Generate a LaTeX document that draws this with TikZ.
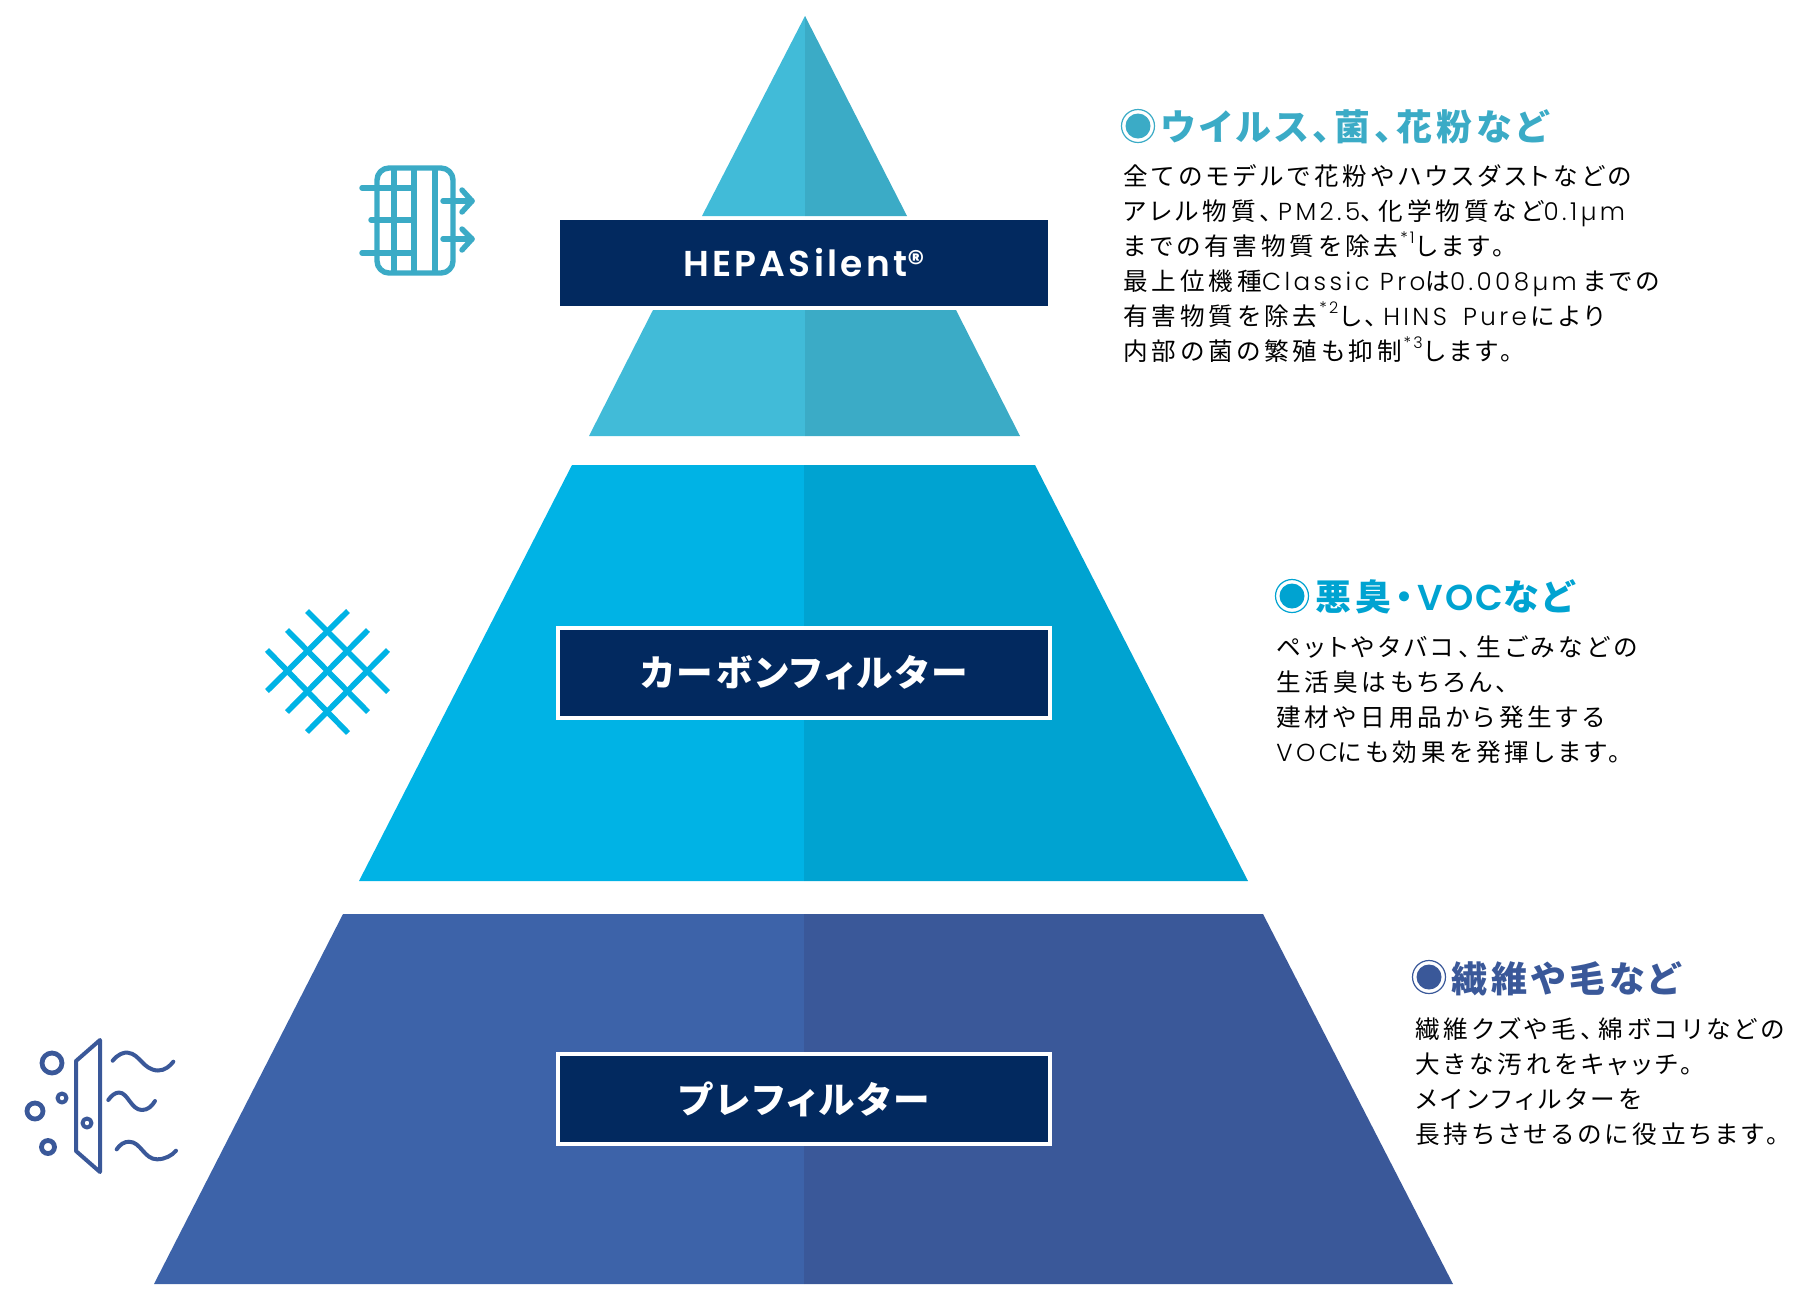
\documentclass[tikz,border=0pt]{standalone}
\usepackage{fontspec}
\setmainfont{Noto Sans CJK JP}
\newfontfamily\jpfont[RawFeature={+palt},LetterSpace=16]{Noto Sans CJK JP}
\newfontfamily\latfont[LetterSpace=14]{Poppins Light}
\newfontfamily\headfont[RawFeature={+palt},LetterSpace=11]{Noto Sans CJK JP}
\newfontfamily\bandfont[RawFeature={+palt},LetterSpace=8]{Noto Sans CJK JP}
\newfontfamily\tagfont[LetterSpace=9]{Poppins SemiBold}
\newfontfamily\vocfont[LetterSpace=6]{Poppins SemiBold}
\newcommand{\lat}[1]{{\latfont #1}}
\newcommand{\fnref}[1]{\hspace{1pt}\raisebox{0.9ex}{\fontsize{8}{8}\selectfont\latfont *#1}\hspace{1pt}}
\newcommand{\tenten}{、\hspace{3pt}}
\definecolor{navyband}{HTML}{02295F}
\definecolor{tealL}{HTML}{41BBD8}
\definecolor{tealR}{HTML}{3BABC6}
\definecolor{cyanL}{HTML}{00B3E5}
\definecolor{cyanR}{HTML}{00A3D1}
\definecolor{blueL}{HTML}{3D63A9}
\definecolor{blueR}{HTML}{3A5899}
\tikzset{
  bandbox/.style={fill=navyband, text=white, minimum width=244pt, minimum height=43pt, inner sep=0pt, font=\fontsize{18.3}{20}\selectfont\bandfont\bfseries},
  framedband/.style={bandbox, draw=white, line width=2pt, minimum width=246pt, minimum height=45pt},
  bodytext/.style={anchor=west, align=left, inner sep=0pt, font=\fontsize{12.3}{17.5}\selectfont\jpfont},
  headtext/.style={anchor=west, inner sep=0pt, font=\fontsize{18}{20}\selectfont\headfont\bfseries},
  ring/.style={circle, draw=#1, line width=0.6pt, fill=white, minimum size=16.5pt, inner sep=0pt},
  disc/.style={circle, fill=#1, minimum size=12.5pt, inner sep=0pt},
  icon/.style={line width=2.7pt, line cap=round, line join=round}
}
\begin{document}
\begin{tikzpicture}[x=0.5pt, y=-0.5pt]
  \useasboundingbox (0,0) rectangle (1815,1297);

  % HEPA tier
  \fill[tealL] (805,16) -- (702,216) -- (805,216) -- cycle;
  \fill[tealR] (805,16) -- (907,216) -- (805,216) -- cycle;
  \fill[tealL] (653,310) -- (589,436) -- (805,436) -- (805,310) -- cycle;
  \fill[tealR] (956,310) -- (1020,436) -- (805,436) -- (805,310) -- cycle;

  % Carbon tier
  \fill[cyanL] (572,465) -- (359,881) -- (804,881) -- (804,465) -- cycle;
  \fill[cyanR] (1035,465) -- (1248,881) -- (804,881) -- (804,465) -- cycle;

  % Prefilter tier
  \fill[blueL] (343,914) -- (154,1284) -- (804,1284) -- (804,914) -- cycle;
  \fill[blueR] (1263,914) -- (1453,1284) -- (804,1284) -- (804,914) -- cycle;

  % Bands
  \node[bandbox] (hepaband) at (804,263) {\fontsize{18}{20}\selectfont\tagfont\mdseries HEPASilent\raisebox{0.1ex}{\fontsize{17}{17}\selectfont\textregistered}};
  \node[framedband] (carbonband) at (804,673) {カーボンフィルター};
  \node[framedband] (preband) at (804,1099) {プレフィルター};

  % Descriptions
  \node[ring=tealR] (heparing) at (1138,126) {};
  \node[disc=tealR] at (heparing) {};
  \node[headtext, text=tealR] (hepahead) at (1161,127) {ウイルス、菌、花粉など};
  \node[bodytext] (hepabody) at (1123,264) {全てのモデルで花粉やハウスダストなどの\\
    アレル物質\tenten\lat{PM2.5}\tenten 化学物質など\lat{0.1µm}\\
    までの有害物質を除去\fnref{1}します。\\
    最上位機種\lat{Classic Pro}は\lat{0.008µm}\hspace{3pt}までの\\
    有害物質を除去\fnref{2}し\tenten\lat{HINS\hspace{3pt} Pure}\hspace{2pt}により\\
    内部の菌の繁殖も抑制\fnref{3}します。};

  \node[ring=cyanR] (carbonring) at (1292,596) {};
  \node[disc=cyanR] at (carbonring) {};
  \node[headtext, text=cyanR] (carbonhead) at (1315,597) {悪臭\hspace{2pt}・\hspace{2pt}{\vocfont\mdseries VOC}など};
  \node[bodytext] (carbonbody) at (1276,700) {ペットやタバコ\tenten 生ごみなどの\\
    生活臭はもちろん、\\
    建材や日用品から発生する\\
    \lat{VOC}にも効果を発揮します。};

  \node[ring=blueR] (prering) at (1429,977) {};
  \node[disc=blueR] at (prering) {};
  \node[headtext, text=blueR] (prehead) at (1451,979) {繊維や毛など};
  \node[bodytext] (prebody) at (1415,1082) {繊維クズや毛\tenten 綿ボコリなどの\\
    大きな汚れをキャッチ。\\
    メインフィルターを\\
    長持ちさせるのに役立ちます。};

  % Filter icon
  \begin{scope}[icon, tealR]
    \draw[rounded corners=6pt] (377,168) rectangle (453,273);
    \foreach \xbar in {394,414,435}
      \draw[line cap=butt] (\xbar,168) -- (\xbar,273);
    \draw (362,188) -- (414,188);
    \draw (371,220) -- (414,220);
    \draw (362,253) -- (414,253);
    \draw (443,201) -- (472,201);
    \draw (462,190) -- (472,201) -- (462,212);
    \draw (443,239) -- (472,239);
    \draw (462,229) -- (472,239) -- (462,250);
  \end{scope}

  % Mesh icon
  \begin{scope}[line width=2.8pt, cyanL]
    \draw (307,611) -- (388,692);
    \draw (287,630) -- (368,712);
    \draw (267,650) -- (348,733);
    \draw (267,691) -- (348,611);
    \draw (287,712) -- (368,630);
    \draw (307,732) -- (388,650);
  \end{scope}

  % Dust icon
  \begin{scope}[line width=2pt, line cap=round, line join=round, blueR]
    \draw (76,1061) -- (100,1040) -- (100,1172) -- (76,1151) -- cycle;
    \draw[line width=2.4pt] (52,1063) circle [radius=10];
    \draw (62,1098) circle [radius=4.5];
    \draw[line width=2.4pt] (35,1111) circle [radius=8];
    \draw[line width=2.4pt] (48,1147) circle [radius=6.5];
    \draw (87,1123) circle [radius=4.5];
    \draw (112.7,1060.7) .. controls (118,1054) and (124,1052) .. (128,1052.7) .. controls (140,1054) and (143,1070) .. (158,1070.5) .. controls (165,1070.5) and (170,1066) .. (173.3,1061.7);
    \draw (108.3,1100) .. controls (111,1096) and (115,1092.5) .. (119,1092.5) .. controls (128,1092.5) and (131,1110) .. (142,1110) .. controls (148,1110) and (152,1106) .. (155,1101);
    \draw (116.7,1149.3) .. controls (120,1144.5) and (124,1141.7) .. (129,1141.7) .. controls (141,1141.7) and (144,1159.3) .. (157,1159.3) .. controls (165,1159.3) and (172,1155.5) .. (176,1150.7);
  \end{scope}
\end{tikzpicture}
\end{document}
